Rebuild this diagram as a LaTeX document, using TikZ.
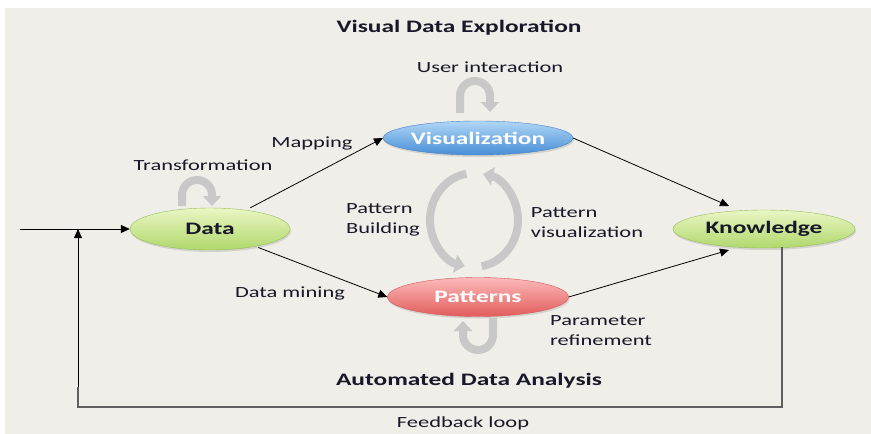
\documentclass[tikz,border=0pt]{standalone}
\usepackage{fontspec}
\setmainfont{Carlito}[FakeStretch=1.45]
\usetikzlibrary{arrows.meta,shapes.geometric,shadows,calc}
\definecolor{bgc}{RGB}{240,238,232}
\definecolor{txtc}{RGB}{24,24,40}
\definecolor{greenT}{RGB}{234,246,196}
\definecolor{greenB}{RGB}{176,216,108}
\definecolor{greenD}{RGB}{150,190,90}
\definecolor{blueT}{RGB}{176,214,246}
\definecolor{blueB}{RGB}{72,142,214}
\definecolor{blueD}{RGB}{70,130,200}
\definecolor{redT}{RGB}{252,186,186}
\definecolor{redB}{RGB}{226,92,92}
\definecolor{redD}{RGB}{210,90,90}
\definecolor{loopc}{RGB}{200,200,200}
\definecolor{fbc}{RGB}{95,95,95}
\begin{document}
\begin{tikzpicture}[x=1pt,y=-1pt,
  ell/.style={ellipse, inner sep=0pt, font=\fontsize{17.5}{20}\selectfont\bfseries,
    drop shadow={opacity=0.25, shadow xshift=1pt, shadow yshift=-2pt}},
  greenell/.style={ell, draw=greenD, line width=0.4pt, top color=greenT, bottom color=greenB, text=txtc},
  blueell/.style={ell, draw=blueD, line width=0.4pt, top color=blueT, bottom color=blueB, text=white},
  redell/.style={ell, draw=redD, line width=0.4pt, top color=redT, bottom color=redB, text=white},
  lbl/.style={inner sep=0pt, text=txtc, font=\fontsize{15.5}{20}\selectfont, align=left},
  ttl/.style={inner sep=0pt, text=txtc, font=\fontsize{17.5}{20}\selectfont\bfseries},
  arr/.style={-{Triangle[length=9pt,width=8pt]}, line width=0.8pt, black},
  loop/.style={draw=loopc, line width=8pt, -{Triangle[length=10pt,width=18pt]}},
  fbline/.style={draw=fbc, line width=1.4pt}
]
\useasboundingbox (0,0) rectangle (871,434);
\fill[white] (0,0) rectangle (871,434);
\fill[bgc] (5,8) rectangle (871,434);

% titles
\node[ttl] (ttop) at (459,28) {Visual Data Exploration};
\node[ttl] (tbot) at (469,381) {Automated Data Analysis};

% nodes
\node[greenell, minimum width=160pt, minimum height=42pt] (data) at (210,229) {Data};
\node[blueell, minimum width=182pt, minimum height=34pt] (vis) at (478,138) {Visualization};
\node[redell, minimum width=181pt, minimum height=39pt] (pat) at (478,297) {Patterns};
\node[greenell, minimum width=182pt, minimum height=38pt] (know) at (764,229) {Knowledge};

% loops
\draw[loop] (182,206) -- (182,195) arc[start angle=180, end angle=360, radius=15] -- (212,206);
\draw[loop] (460,113) -- (460,96) arc[start angle=180, end angle=360, radius=15] -- (490,112);
\draw[loop] (493,318) -- (493,335) arc[start angle=0, end angle=180, radius=15] -- (463,321);
\draw[loop] ([shift={(260:44 and 47)}]474,220) arc[start angle=260, end angle=102, x radius=44, y radius=47];
\draw[loop] ([shift={(80:44 and 47)}]474,220) arc[start angle=80, end angle=-78, x radius=44, y radius=47];

% connectors
\coordinate (in) at (20,229);
\coordinate (fbL) at (78,229);
\coordinate (fbB) at (78,407);
\coordinate (kb) at ($(know.south)+(18,-1)$);
\coordinate (k1) at (729,206);
\coordinate (k2) at (729,250);
\draw[arr] (in) -- (data);
\draw[arr, shorten <=5pt] (data) -- (vis.west);
\draw[arr, shorten <=3pt] (data) -- (pat.west);
\draw[arr] (vis.east) -- (k1);
\draw[arr] (pat.east) -- (k2);
\draw[fbline] (kb) |- (fbB) -- ($(fbB)+(0,-20)$);
\draw[arr] ($(fbB)+(0,-20)$) -- (fbL);

% labels
\node[lbl] (lui) at (490,67) {User interaction};
\node[lbl] (lmap) at (312,143) {Mapping};
\node[lbl] (ltr) at (203,165) {Transformation};
\node[lbl] (lpb) at (383,220) {Pattern\\Building};
\node[lbl] (lpv) at (587,223) {Pattern\\visualization};
\node[lbl] (ldm) at (290,293) {Data mining};
\node[lbl] (lpr) at (601,331) {Parameter\\refinement};
\node[lbl] (lfb) at (463,423) {Feedback loop};
\end{tikzpicture}
\end{document}
